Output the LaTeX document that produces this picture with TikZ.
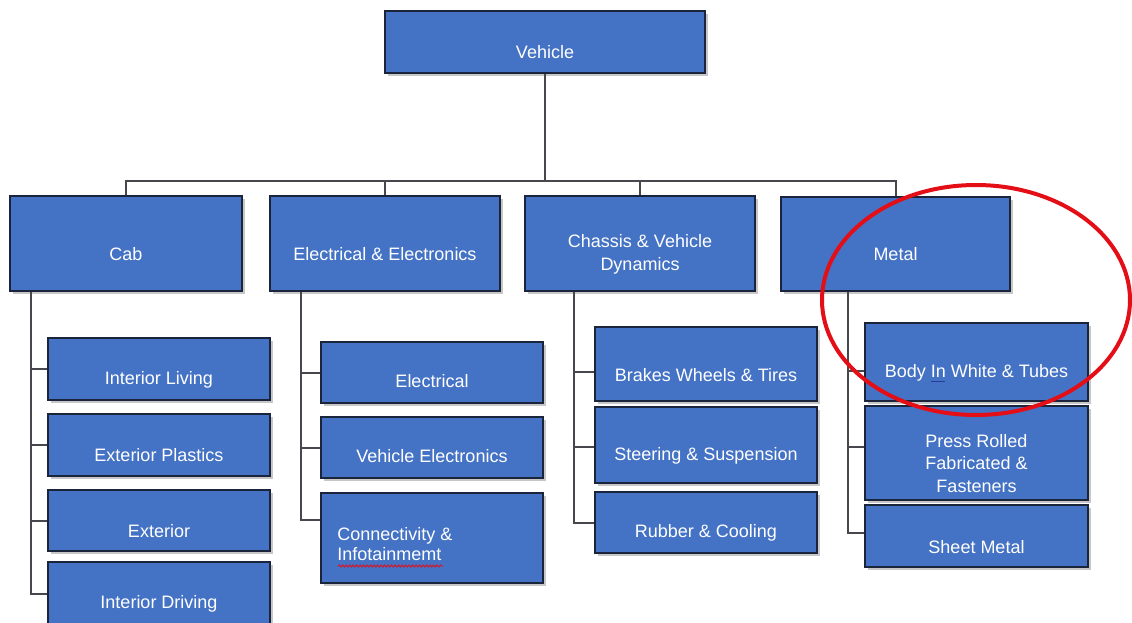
\documentclass[tikz,border=0pt]{standalone}
\usepackage{fontspec}
\setmainfont{Liberation Sans}
\usetikzlibrary{shadows,decorations.pathmorphing}

\definecolor{boxblue}{RGB}{68,114,196}
\definecolor{boxedge}{RGB}{26,36,58}
\definecolor{linkgray}{RGB}{70,72,78}
\definecolor{markred}{RGB}{228,14,22}
\definecolor{spellblue}{RGB}{40,60,150}

\begin{document}
\begin{tikzpicture}[x=1pt,y=-1pt,
  box/.style={draw=boxedge, line width=1.6pt, fill=boxblue, inner sep=0pt,
    drop shadow={shadow xshift=2.5pt, shadow yshift=-3pt, fill=black, opacity=0.22}},
  txt/.style={text=white, font=\fontsize{18}{23}\selectfont, align=center,
    inner sep=0pt, yshift=-10.5pt},
  link/.style={draw=linkgray, line width=2pt},
]
\clip (0,0) rectangle (1132,623);
\fill[white] (0,0) rectangle (1132,623);

% top level
\node[box, minimum width=320, minimum height=62] (veh) at (545,42) {};
\node[txt] (veh-t) at (veh) {Vehicle};

% second level
\node[box, minimum width=232, minimum height=95] (cab)   at (126,243.5) {};
\node[box, minimum width=230, minimum height=95] (elec)  at (385,243.5) {};
\node[box, minimum width=230, minimum height=95] (chas)  at (640,243.5) {};
\node[box, minimum width=229, minimum height=94] (metal) at (895.5,244) {};
\node[txt] (cab-t)   at (cab)   {Cab};
\node[txt] (elec-t)  at (elec)  {Electrical \& Electronics};
\node[txt] (chas-t)  at (chas)  {Chassis \& Vehicle\\Dynamics};
\node[txt] (metal-t) at (metal) {Metal};

% cab children
\node[box, minimum width=222, minimum height=62] (il) at (159,369) {};
\node[box, minimum width=222, minimum height=62] (ep) at (159,445) {};
\node[box, minimum width=222, minimum height=61] (ex) at (159,520.5) {};
\node[box, minimum width=222, minimum height=62] (id) at (159,593) {};
\node[txt] (il-t) at (il) {Interior Living};
\node[txt] (ep-t) at (ep) {Exterior Plastics};
\node[txt] (ex-t) at (ex) {Exterior};
\node[txt] (id-t) at (id) {Interior Driving};

% electrical children
\node[box, minimum width=222, minimum height=61] (el) at (432,372.5) {};
\node[box, minimum width=222, minimum height=61] (ve) at (432,447.5) {};
\node[box, minimum width=222, minimum height=90] (ci) at (432,538) {};
\node[txt, yshift=2pt] (el-t) at (el) {Electrical};
\node[txt, yshift=2pt] (ve-t) at (ve) {Vehicle Electronics};
\node[txt, align=left, anchor=west, yshift=4pt, font=\fontsize{18}{20}\selectfont]
  (ci-t) at ([xshift=17pt]ci.west) {Connectivity \&\\Infotainmemt};

% chassis children
\node[box, minimum width=222, minimum height=74] (bw) at (706,364) {};
\node[box, minimum width=222, minimum height=76] (ss) at (706,445) {};
\node[box, minimum width=222, minimum height=61] (rc) at (706,522.5) {};
\node[txt, yshift=-1pt] (bw-t) at (bw) {Brakes Wheels \& Tires};
\node[txt] (ss-t) at (ss) {Steering \& Suspension};
\node[txt] (rc-t) at (rc) {Rubber \& Cooling};

% metal children
\node[box, minimum width=223, minimum height=78] (bi) at (976.5,362) {};
\node[box, minimum width=223, minimum height=94] (pr) at (976.5,453) {};
\node[box, minimum width=223, minimum height=62] (sm) at (976.5,536) {};
\node[txt] (bi-t) at (bi) {Body In White \& Tubes};
\node[txt, font=\fontsize{18}{22.5}\selectfont] (pr-t) at (pr) {Press Rolled\\Fabricated \&\\Fasteners};
\node[txt, yshift=-1pt] (sm-t) at (sm) {Sheet Metal};

% proofing marks under the text
\draw[markred, line width=0.9pt, decorate,
  decoration={snake, amplitude=1pt, segment length=3.5pt}]
  (338,566) -- (443,566);
\draw[spellblue, line width=1.2pt] (931,381.5) -- (945,381.5);

% bus from the top box to the second level
\draw[link] (veh.south) -- (veh.south |- 0,182);
\draw[link] (cab.north) -- ++(0,-14) -| (metal.north);
\draw[link] (elec.north) -- ++(0,-14);
\draw[link] (chas.north) -- ++(0,-14);

% trunks hanging from the second level
\coordinate (ctr) at ([xshift=22pt]cab.south west);
\coordinate (etr) at ([xshift=32pt]elec.south west);
\coordinate (htr) at ([xshift=50pt]chas.south west);
\coordinate (mtr) at ([xshift=68pt]metal.south west);

\draw[link] (ctr) |- ([yshift=-0.5pt]id.west);
\draw[link] (il.west) -- (il.west -| ctr);
\draw[link] (ep.west) -- (ep.west -| ctr);
\draw[link] (ex.west) -- (ex.west -| ctr);

\draw[link] (etr) |- ([yshift=18pt]ci.west);
\draw[link] (el.west) -- (el.west -| etr);
\draw[link] (ve.west) -- (ve.west -| etr);

\draw[link] (htr) |- (rc.west);
\draw[link] ([yshift=-8pt]bw.west) -- ([yshift=-8pt]bw.west -| htr);
\draw[link] ([yshift=-2pt]ss.west) -- ([yshift=-2pt]ss.west -| htr);

\draw[link] (mtr) |- ([yshift=3pt]sm.west);
\draw[link] ([yshift=-9pt]bi.west) -- ([yshift=-9pt]bi.west -| mtr);
\draw[link] ([yshift=6pt]pr.west) -- ([yshift=6pt]pr.west -| mtr);

% highlight ring
\draw[markred, line width=4pt] (976,300) ellipse [x radius=154, y radius=115];
\end{tikzpicture}
\end{document}
